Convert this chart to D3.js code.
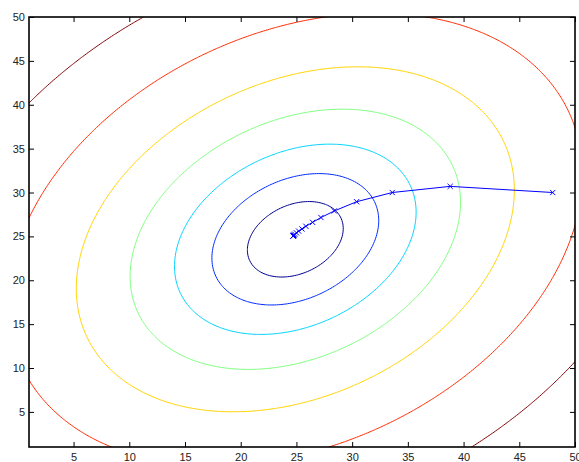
<!DOCTYPE html>
<html>
<head>
<meta charset="utf-8">
<script src="https://cdn.jsdelivr.net/npm/d3@7"></script>
<style>
body { margin: 0; background: #fff; }
svg { display: block; font-family: "Liberation Sans", Arial, sans-serif; }
</style>
</head>
<body>
<svg id="chart" width="579" height="462"></svg>
<script>
// axis ranges and ticks
var xDomain = [1, 50];
var yDomain = [1, 50];
var xTicks = [5, 10, 15, 20, 25, 30, 35, 40, 45, 50];
var yTicks = [5, 10, 15, 20, 25, 30, 35, 40, 45, 50];

// cost surface: centre and quadratic coefficients (dx^2, dx*dy, dy^2)
var surfCenter = [24.9, 24.67];
var surfCoef = [1, -0.57, 1];
// contour levels, innermost first
var levels = [17, 51.5, 108, 202, 355, 610, 1024];
var levelColors = ["#000090", "#002bff", "#00d4ff", "#80ff80", "#ffd400", "#ff2b00", "#800000"];

// descent path
var pathX = [48.0, 38.8, 33.6, 30.4, 28.4, 27.2, 26.45, 25.85, 25.5, 25.2, 25.0, 24.85, 24.78, 24.74, 24.72, 24.71, 24.70];
var pathY = [30.0, 30.7, 30.0, 28.95, 27.9, 27.15, 26.6, 26.15, 25.85, 25.6, 25.4, 25.25, 25.15, 25.1, 25.07, 25.05, 25.04];

var m = {left: 29, top: 17, right: 575, bottom: 447};
var svg = d3.select("#chart");

var x = d3.scaleLinear().domain(xDomain).range([m.left, m.right]);
var y = d3.scaleLinear().domain(yDomain).range([m.bottom, m.top]);

svg.append("defs").append("clipPath").attr("id", "plot")
  .append("rect").attr("x", m.left).attr("y", m.top)
  .attr("width", m.right - m.left).attr("height", m.bottom - m.top);

// grid wider than the axes so rings don't close along the frame
var g0 = -15, step = 0.2, n = 401;
var values = new Array(n * n);
for (var j = 0; j < n; j++) {
  for (var i = 0; i < n; i++) {
    var dx = g0 + i * step - surfCenter[0];
    var dy = g0 + j * step - surfCenter[1];
    values[j * n + i] = surfCoef[0] * dx * dx + surfCoef[1] * dx * dy + surfCoef[2] * dy * dy;
  }
}
var contours = d3.contours().size([n, n]).thresholds(levels)(values);

var proj = d3.geoTransform({
  point: function(px, py) {
    this.stream.point(x(g0 + (px - 0.5) * step), y(g0 + (py - 0.5) * step));
  }
});
var geo = d3.geoPath(proj);

var plot = svg.append("g").attr("clip-path", "url(#plot)");
plot.selectAll("path.level").data(contours).enter().append("path")
  .attr("class", "level")
  .attr("d", geo)
  .attr("fill", "none")
  .attr("stroke", function(d, k) { return levelColors[k]; })
  .attr("stroke-width", 1);

// path line + x markers
var pts = pathX.map(function(v, k) { return [v, pathY[k]]; });
plot.append("path")
  .attr("d", d3.line().x(function(d) { return x(d[0]); }).y(function(d) { return y(d[1]); })(pts))
  .attr("fill", "none").attr("stroke", "#0000ff").attr("stroke-width", 1);
var s = 2.6;
plot.selectAll("path.mark").data(pts).enter().append("path")
  .attr("class", "mark")
  .attr("d", function(d) {
    var cx = x(d[0]), cy = y(d[1]);
    return "M" + (cx - s) + "," + (cy - s) + "L" + (cx + s) + "," + (cy + s) +
           "M" + (cx - s) + "," + (cy + s) + "L" + (cx + s) + "," + (cy - s);
  })
  .attr("fill", "none").attr("stroke", "#0000ff").attr("stroke-width", 1);

// axes: ticks inward on all four sides, labels left and bottom
var tl = 5;
svg.append("g").attr("transform", "translate(0," + m.bottom + ")")
  .call(d3.axisBottom(x).tickValues(xTicks).tickSize(-tl).tickPadding(6));
svg.append("g").attr("transform", "translate(0," + m.top + ")")
  .call(d3.axisTop(x).tickValues(xTicks).tickSize(-tl).tickFormat(""));
svg.append("g").attr("transform", "translate(" + m.left + ",0)")
  .call(d3.axisLeft(y).tickValues(yTicks).tickSize(-tl).tickPadding(4));
svg.append("g").attr("transform", "translate(" + m.right + ",0)")
  .call(d3.axisRight(y).tickValues(yTicks).tickSize(-tl).tickFormat(""));

svg.selectAll(".domain").remove();
svg.selectAll(".tick line").attr("stroke", "#000").attr("stroke-width", 1);
svg.selectAll(".tick text").attr("fill", "#222").style("font-size", "11px");

svg.append("rect").attr("x", m.left).attr("y", m.top)
  .attr("width", m.right - m.left).attr("height", m.bottom - m.top)
  .attr("fill", "none").attr("stroke", "#000").attr("stroke-width", 1.6);
</script>
</body>
</html>
